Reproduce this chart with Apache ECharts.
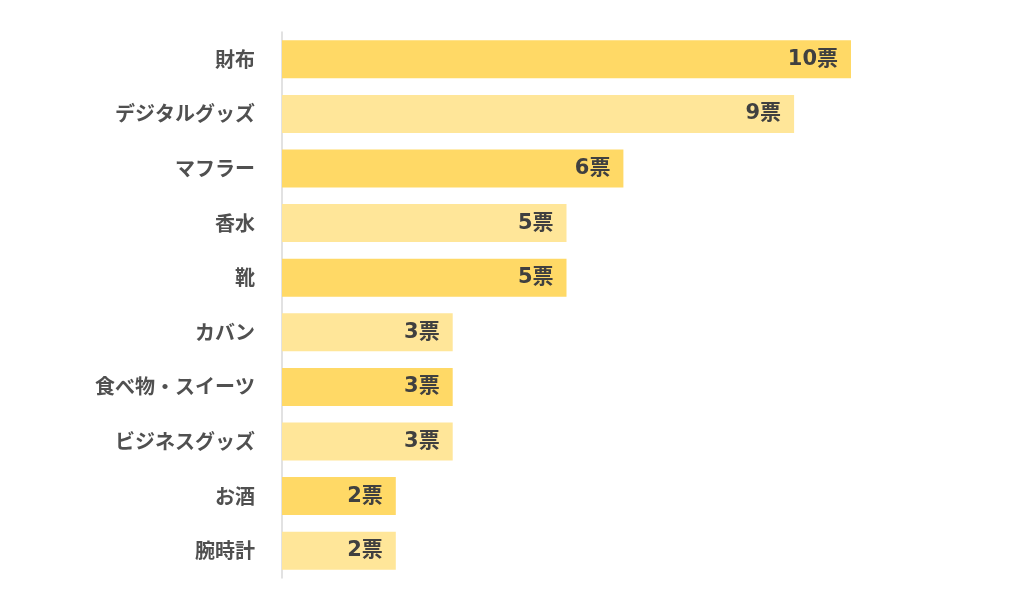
<!DOCTYPE html>
<html><head><meta charset="utf-8">
<script src="https://cdn.jsdelivr.net/npm/echarts@6/dist/echarts.min.js"></script>
<style>html,body{margin:0;padding:0;background:#fff}#c{width:1024px;height:606px}</style>
</head><body><div id="c"></div>
<script>
const categories = ['財布','デジタルグッズ','マフラー','香水','靴','カバン','食べ物・スイーツ','ビジネスグッズ','お酒','腕時計'];
const votes = [10,9,6,5,5,3,3,3,2,2];
const unit = '票';
const colors = ['#FFD966','#FFE699'];

const chart = echarts.init(document.getElementById('c'));
chart.setOption({
  animation:false,
  backgroundColor:'#fff',
  grid:{left:282,right:173,top:32,bottom:28,containLabel:false},
  xAxis:{type:'value',min:0,max:10,show:false},
  yAxis:{type:'category',inverse:true,data:categories,
    axisLine:{show:true,lineStyle:{color:'#D9D9D9',width:1.5}},
    axisTick:{show:false},
    axisLabel:{margin:27,color:'#505050',fontSize:20,fontWeight:'bold',fontFamily:'"Noto Sans CJK JP", sans-serif'}},
  series:[{type:'bar',barWidth:38,
    data:votes.map((v,i)=>({value:v,itemStyle:{color:colors[i%2]}})),
    label:{show:true,position:'insideRight',distance:13,formatter:p=>p.value+unit,
      color:'#404040',fontSize:21,fontWeight:'bold',fontFamily:'"DejaVu Sans", "Noto Sans CJK JP", sans-serif'}}]
});
</script></body></html>
